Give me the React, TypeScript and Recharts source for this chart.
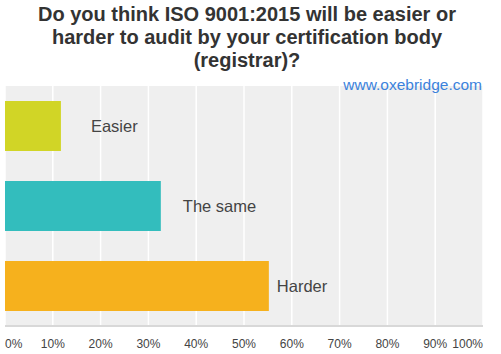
import { BarChart, Bar, XAxis, YAxis, CartesianGrid, Cell, LabelList } from 'recharts';

const answers = ['Easier', 'The same', 'Harder'];
const shares = [11.7, 32.6, 55.2];
const barColors = ['#d1d526', '#33bdbd', '#f6b11d'];
const tickValues = [0, 10, 20, 30, 40, 50, 60, 70, 80, 90, 100];
const titleLines = [
  'Do you think ISO 9001:2015 will be easier or',
  'harder to audit by your certification body',
  '(registrar)?',
];
const watermark = 'www.oxebridge.com';

// gap between bar end and label start, per row
const labelGaps = [30, 22, 8];

const data = answers.map((name, i) => ({ name, value: shares[i] }));

function PercentTick(props: { x?: number; y?: number; payload?: { value: number }; index?: number }) {
  const { x = 0, y = 0, payload, index = 0 } = props;
  const last = tickValues.length - 1;
  const anchor = index === 0 ? 'start' : index === last ? 'end' : 'middle';
  return (
    <text
      x={x}
      y={y + 14}
      textAnchor={anchor}
      fill="#444"
      fontSize={12}
      fontFamily="Arial, 'Liberation Sans', sans-serif"
    >
      {payload?.value}%
    </text>
  );
}

function BarLabel(props: { x?: number; y?: number; width?: number; height?: number; value?: string; index?: number }) {
  const { x = 0, y = 0, width = 0, height = 0, value, index = 0 } = props;
  return (
    <text
      x={Number(x) + Number(width) + labelGaps[index]}
      y={Number(y) + Number(height) / 2}
      dominantBaseline="central"
      fill="#444"
      fontSize={16.5}
      fontFamily="Arial, 'Liberation Sans', sans-serif"
    >
      {value}
    </text>
  );
}

export default function App() {
  return (
    <div style={{ position: 'absolute', left: 0, top: 0, width: 501, height: 354, background: '#fff' }}>
      <BarChart
        width={501}
        height={354}
        data={data}
        layout="vertical"
        margin={{ top: 86, right: 18, bottom: 0, left: 5 }}
        barSize={50}
      >
        <CartesianGrid horizontal={false} fill="#efefef" stroke="#ffffff" strokeWidth={1.5} />
        <XAxis
          type="number"
          domain={[0, 100]}
          ticks={tickValues}
          interval={0}
          height={28}
          tick={<PercentTick />}
          tickLine={false}
          axisLine={{ stroke: '#d8d8d8', strokeWidth: 2 }}
        />
        <YAxis type="category" dataKey="name" width={0} tick={false} tickLine={false} axisLine={{ stroke: '#c8c8c8' }} />
        <Bar dataKey="value" isAnimationActive={false}>
          {data.map((d, i) => (
            <Cell key={d.name} fill={barColors[i]} />
          ))}
          <LabelList dataKey="name" content={<BarLabel />} />
        </Bar>
      </BarChart>
      <div
        style={{
          position: 'absolute',
          left: 0,
          top: 3,
          width: 494,
          textAlign: 'center',
          fontFamily: "Arial, 'Liberation Sans', sans-serif",
          fontWeight: 700,
          fontSize: 20,
          lineHeight: '23px',
          color: '#333',
        }}
      >
        {titleLines.map((l) => (
          <div key={l}>{l}</div>
        ))}
      </div>
      <div
        style={{
          position: 'absolute',
          right: 19,
          top: 77,
          lineHeight: '16px',
          fontFamily: "Arial, 'Liberation Sans', sans-serif",
          fontSize: 15.5,
          color: '#3b82dc',
          zIndex: 1,
        }}
      >
        {watermark}
      </div>
    </div>
  );
}
